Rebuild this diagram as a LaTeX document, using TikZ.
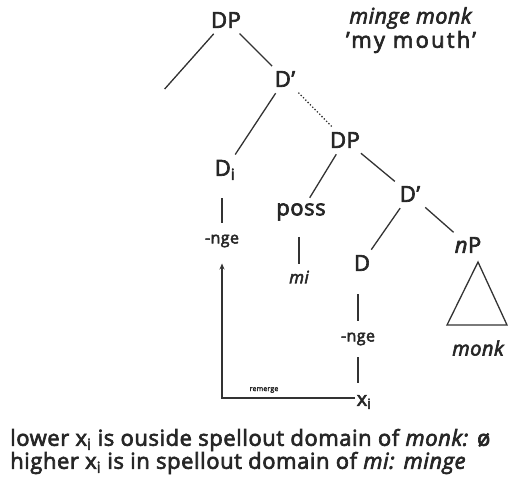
\documentclass[tikz,border=0pt]{standalone}
\usepackage{fontspec}
\setmainfont{Open Sans}[FakeBold=3, LetterSpace=2.5]
\usetikzlibrary{arrows.meta}
\begin{document}
\begin{tikzpicture}[x=1pt,y=-1pt,
  lbl/.style={font=\fontsize{22}{24}\selectfont, inner sep=2pt, text=black!85},
  morph/.style={font=\fontsize{16}{18}\selectfont, inner sep=1pt, text=black!85},
  gloss/.style={font=\fontsize{21.5}{23}\selectfont, text=black!85, inner sep=0pt},
  br/.style={line width=1.3pt, draw=black!80, shorten <=5pt, shorten >=4pt},
  vbar/.style={line width=1.3pt, draw=black!80},
]
\useasboundingbox (0,0) rectangle (508,487);

% tree labels
\node[lbl] (dp1) at (226,20) {DP};
\coordinate (spec) at (162,92);
\node[lbl] (d1) at (285,79) {D'};
\node[lbl] (di) at (225,170) {D\textsubscript{i}};
\node[morph] (nge1) at (222,241) {-nge};
\node[lbl] (dp2) at (345,140) {DP};
\node[lbl] (poss) at (301,212) {poss};
\node[morph,font=\fontsize{17}{19}\selectfont\itshape] (mi) at (299,277) {mi};
\node[lbl] (d2) at (410,194) {D'};
\node[lbl] (d3) at (362,263) {D};
\node[lbl] (np) at (468,245) {\textit{n}P};
\coordinate (apex) at (478,262);
\coordinate (bl) at (447,325);
\coordinate (brt) at (507,325);
\node[morph,font=\fontsize{20}{22}\selectfont\itshape] (monk) at (478,348) {monk};
\node[morph] (nge2) at (358,339) {-nge};
\node[lbl,font=\fontsize{20}{22}\selectfont] (xi) at (364,402) {x\textsubscript{i}};

% glosses
\node[gloss] (gl1) at (411,18) {\textit{minge monk}};
\node[gloss, font=\fontsize{22}{24}\selectfont\addfontfeatures{FakeBold=3, LetterSpace=10}] (gl2) at (411,42) {'my mouth'};

% branches
\draw[br] (dp1) -- (spec);
\draw[br] (dp1) -- (d1);
\draw[br] (d1) -- (di);
\draw[br, dotted] (d1) -- (dp2);
\draw[br] (dp2) -- (poss);
\draw[br] (dp2) -- (d2);
\draw[br] (d2) -- (d3);
\draw[br] (d2) -- (np);
\draw[line width=1.3pt, draw=black!80] (apex) -- (bl) -- (brt) -- cycle;

% vertical spellout bars, kept straight under each morpheme
\draw[vbar, shorten <=16pt, shorten >=11pt] (di.south -| nge1) -- (nge1.north);
\draw[vbar, shorten <=14pt, shorten >=6pt] (poss.south -| mi) -- (mi.north);
\draw[vbar, shorten <=21pt, shorten >=11pt] (d3.south -| nge2) -- (nge2.north);
\draw[vbar, shorten <=11pt, shorten >=10pt] (nge2.south) -- (nge2 |- xi.north);

% remerge path
\draw[vbar, line width=1.6pt, -{Stealth[length=6pt,width=5pt]}, shorten >=15pt]
  ([yshift=4pt]xi.west) -| (nge1.south);
\node[font=\fontsize{7}{8}\selectfont, text=black!85, inner sep=0pt] (rem) at (264,390) {remerge};

% conclusions
\node[font=\fontsize{22}{23}\selectfont, text=black!85, anchor=west, inner sep=0pt] (c1) at (10,440)
  {lower x\textsubscript{i} is ouside spellout domain of \textit{monk:} ø};
\node[font=\fontsize{22}{23}\selectfont, text=black!85, anchor=west, inner sep=0pt] (c2) at (10,463)
  {higher x\textsubscript{i} is in spellout domain of \textit{mi:} \textit{minge}};
\end{tikzpicture}
\end{document}
